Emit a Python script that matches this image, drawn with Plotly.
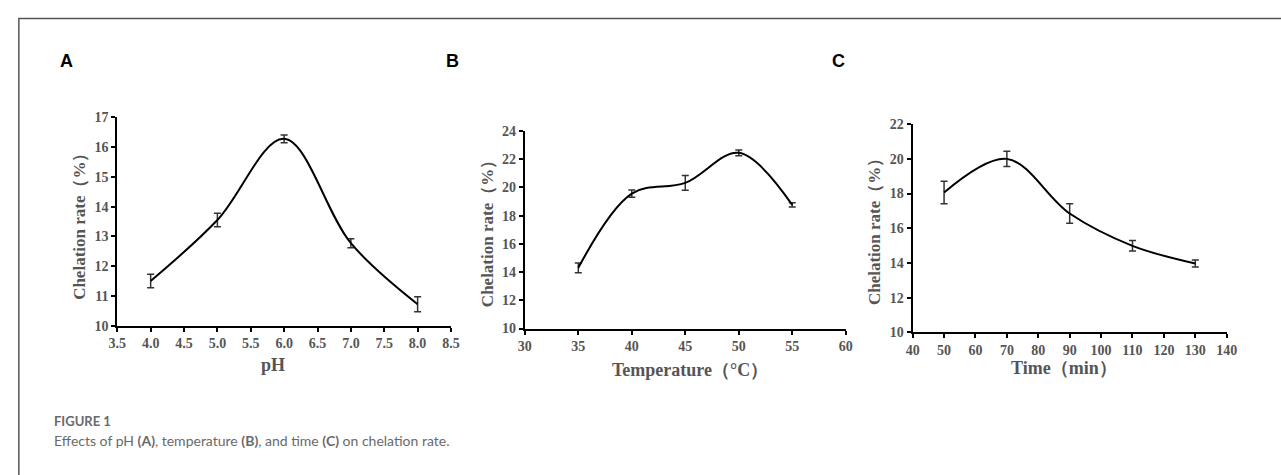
import plotly.graph_objects as go

W, H = 1281, 475

# ---- data ----
ph = [4.0, 5.0, 6.0, 7.0, 8.0]
ph_rate = [11.5, 13.55, 16.28, 12.77, 10.72]
ph_err = [0.23, 0.23, 0.13, 0.15, 0.25]

temp = [35, 40, 45, 50, 55]
temp_rate = [14.3, 19.56, 20.32, 22.45, 18.76]
temp_err = [0.35, 0.25, 0.52, 0.2, 0.15]

time_min = [50, 70, 90, 110, 130]
time_rate = [18.06, 20.0, 16.85, 14.99, 13.97]
time_err = [0.65, 0.44, 0.56, 0.3, 0.2]

panel_letters = ["A", "B", "C"]
x_titles = ["pH", "Temperature（°C）", "Time（min）"]
y_title = "Chelation rate（%）"
caption_head = "FIGURE 1"
caption_text = ("Effects of pH <b>(A)</b>, temperature <b>(B)</b>, and time "
                "<b>(C)</b> on chelation rate.")

# ---- layout geometry (pixels) ----
panels = [
    dict(x=ph, y=ph_rate, e=ph_err, xr=[3.5, 8.5], dx=0.5, yr=[10, 17], dy=1,
         px=(110, 449), py=(114, 329), fmt=".1f"),
    dict(x=temp, y=temp_rate, e=temp_err, xr=[30, 60], dx=5, yr=[10, 24], dy=2,
         px=(524, 850), py=(128, 332), fmt="d"),
    dict(x=time_min, y=time_rate, e=time_err, xr=[40, 140], dx=10, yr=[10, 22], dy=2,
         px=(918, 1237), py=(121, 336), fmt="d"),
]

def fx(p):
    return p / W

def fy(p):
    return 1 - p / H

fig = go.Figure()
tick_font = dict(family="Liberation Serif", size=14, color="#555555", weight="bold")

for i, p in enumerate(panels):
    n = "" if i == 0 else str(i + 1)
    fig.add_trace(go.Scatter(
        x=p["x"], y=p["y"], mode="lines",
        line=dict(color="black", width=2, shape="spline", smoothing=1.0),
        error_y=dict(type="data", array=p["e"], visible=True, color="#333333",
                     thickness=1.5, width=3.5),
        xaxis="x" + n, yaxis="y" + n, showlegend=False, hoverinfo="skip"))
    common = dict(showgrid=False, zeroline=False, showline=True, linecolor="black",
                  linewidth=2, ticks="outside", ticklen=4, tickwidth=1.5,
                  tickcolor="black", tickfont=tick_font)
    fig.layout["xaxis" + n] = dict(
        domain=[fx(p["px"][0]), fx(p["px"][1])], range=p["xr"], dtick=p["dx"],
        tick0=p["xr"][0], tickformat=p["fmt"], anchor="y" + n, **common)
    fig.layout["yaxis" + n] = dict(
        domain=[fy(p["py"][1]), fy(p["py"][0])], range=p["yr"], dtick=p["dy"],
        tick0=p["yr"][0], anchor="x" + n, **common)

annotations = []
ann_base = dict(xref="paper", yref="paper", showarrow=False,
                xanchor="center", yanchor="middle")
# panel letters
for letter, xp in zip(panel_letters, [58, 451, 843]):
    annotations.append(dict(text="<b>%s</b>" % letter, x=fx(xp), y=fy(56),
                            font=dict(family="Liberation Sans", size=18, color="black"),
                            **ann_base))
# axis titles
x_title_pos = [(268, 370), (692, 375), (1072, 373)]
y_title_pos = [(72, 222), (486, 230), (880, 228)]
for t, (xp, yp) in zip(x_titles, x_title_pos):
    annotations.append(dict(text="<b>%s</b>" % t, x=fx(xp), y=fy(yp),
                            font=dict(family="Liberation Serif", size=18, color="#555555"),
                            **ann_base))
for xp, yp in y_title_pos:
    annotations.append(dict(text="<b>%s</b>" % y_title, x=fx(xp), y=fy(yp), textangle=-90,
                            font=dict(family="Liberation Serif", size=17, color="#555555"),
                            **ann_base))
# caption
cap = dict(ann_base)
cap["xanchor"] = "left"
annotations.append(dict(text="<b>%s</b>" % caption_head, x=fx(44), y=fy(427),
                        font=dict(family="Lato", size=13, color="#6a6a6a"), **cap))
annotations.append(dict(text=caption_text, x=fx(44), y=fy(448),
                        font=dict(family="Lato", size=14, color="#6a6a6a"), **cap))

fig.update_layout(
    width=W, height=H, margin=dict(l=0, r=0, t=0, b=0),
    paper_bgcolor="white", plot_bgcolor="white",
    annotations=annotations,
    shapes=[dict(type="rect", xref="paper", yref="paper", x0=fx(10), x1=1.05,
                 y0=-0.1, y1=fy(12), line=dict(color="#555555", width=1.5))],
)

fig.write_html("out.html")
